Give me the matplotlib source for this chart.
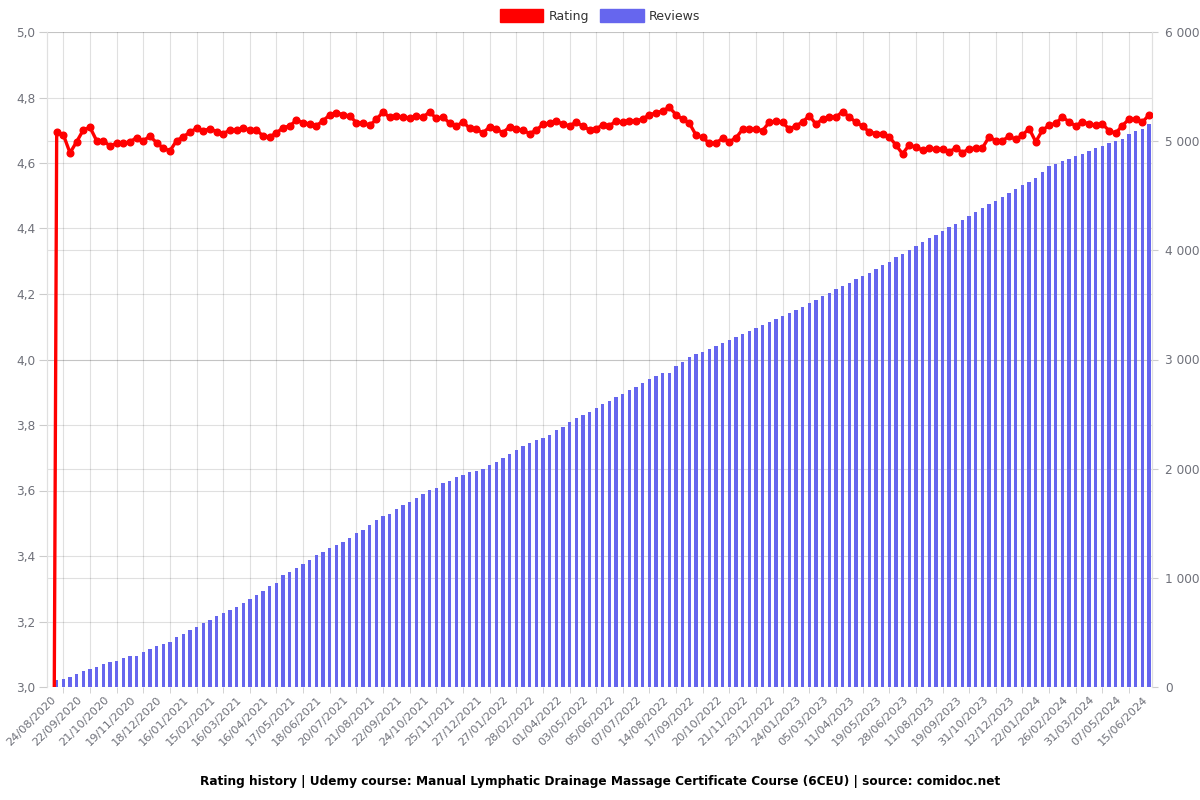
import matplotlib

matplotlib.use("Agg")
import matplotlib.pyplot as plt
import matplotlib.transforms as mtransforms
import numpy as np
from matplotlib.patches import Patch
from matplotlib.ticker import FixedLocator, FuncFormatter

# one label every 4 samples, starting with the first sample
TICK_DATES = [
    "24/08/2020", "22/09/2020", "21/10/2020", "19/11/2020", "18/12/2020",
    "16/01/2021", "15/02/2021", "16/03/2021", "16/04/2021", "17/05/2021",
    "18/06/2021", "20/07/2021", "21/08/2021", "22/09/2021", "24/10/2021",
    "25/11/2021", "27/12/2021", "27/01/2022", "28/02/2022", "01/04/2022",
    "03/05/2022", "05/06/2022", "07/07/2022", "14/08/2022", "17/09/2022",
    "20/10/2022", "21/11/2022", "23/12/2022", "24/01/2023", "05/03/2023",
    "11/04/2023", "19/05/2023", "28/06/2023", "11/08/2023", "19/09/2023",
    "31/10/2023", "12/12/2023", "22/01/2024", "26/02/2024", "31/03/2024",
    "07/05/2024", "15/06/2024",
]

RATING = [
    0.0,
    4.696, 4.686, 4.631, 4.665, 4.701, 4.709, 4.668, 4.668, 4.652, 4.660,
    4.660, 4.665, 4.677, 4.668, 4.682, 4.662, 4.645, 4.637, 4.668, 4.680,
    4.694, 4.706, 4.699, 4.704, 4.696, 4.689, 4.701, 4.701, 4.706, 4.701,
    4.701, 4.682, 4.680, 4.692, 4.708, 4.713, 4.731, 4.723, 4.719, 4.714,
    4.729, 4.747, 4.754, 4.747, 4.744, 4.723, 4.723, 4.715, 4.733, 4.756,
    4.739, 4.744,
    4.740, 4.738, 4.742, 4.740, 4.756, 4.736, 4.740, 4.722, 4.712, 4.726,
    4.706, 4.703, 4.692, 4.710, 4.703, 4.693, 4.710, 4.703, 4.700, 4.690,
    4.700, 4.718, 4.722,
    4.729, 4.718, 4.714, 4.724, 4.713, 4.701, 4.705, 4.716, 4.714, 4.728,
    4.725, 4.729, 4.729, 4.734, 4.748, 4.752, 4.760, 4.770, 4.747, 4.734,
    4.721, 4.685, 4.678, 4.660, 4.662, 4.675, 4.665, 4.677, 4.703, 4.704,
    4.703, 4.699, 4.725, 4.727, 4.724, 4.703, 4.714,
    4.725, 4.745, 4.718, 4.735, 4.740, 4.740, 4.757, 4.740, 4.725, 4.712,
    4.695, 4.690, 4.690, 4.680, 4.655, 4.628, 4.655, 4.648, 4.640, 4.645,
    4.643, 4.642, 4.635, 4.645, 4.632, 4.643, 4.646, 4.646, 4.680, 4.668,
    4.668, 4.682, 4.672, 4.685, 4.705, 4.665, 4.700, 4.715,
    4.721, 4.740, 4.726, 4.713, 4.726, 4.719, 4.715, 4.719, 4.699, 4.691,
    4.714, 4.734, 4.733, 4.724, 4.747,
]

REVIEWS = [
    0,
    60, 73, 94, 122, 147, 168, 186, 207, 225, 241,
    268, 284, 284, 321, 344, 376, 394, 412, 461, 485,
    522, 546, 586, 614, 653, 678, 705, 733,
    769, 809, 845, 882, 922, 955, 1022, 1056, 1093, 1129,
    1166, 1206, 1237, 1276, 1303, 1331, 1368, 1407, 1438, 1487,
    1530, 1563, 1587, 1630, 1664, 1695, 1731, 1764, 1801, 1826,
    1865, 1890, 1926, 1945, 1966, 1981, 2000, 2034, 2064, 2098,
    2137, 2171, 2210, 2235, 2263, 2281, 2311, 2357, 2382, 2424,
    2464, 2488, 2519, 2556, 2589, 2623, 2653, 2684, 2721, 2751,
    2781, 2818, 2849, 2876, 2879, 2940, 2980, 3023, 3050, 3069,
    3099, 3126,
    3150, 3180, 3205, 3235, 3262, 3290, 3318, 3345, 3375, 3400,
    3428, 3455, 3485, 3515, 3545, 3580, 3612, 3645, 3675, 3705,
    3735, 3765, 3795, 3830, 3862, 3895, 3935, 3970, 4005, 4040,
    4075, 4110, 4145, 4180, 4210, 4245, 4280, 4315, 4350, 4385,
    4420, 4455, 4490, 4525, 4560, 4595, 4630, 4665, 4715,
    4769, 4793, 4818, 4839, 4860, 4885, 4909, 4939, 4960, 4982,
    5003, 5024, 5065, 5092, 5113, 5153,
]

RATING_TICKS = [3.0, 3.2, 3.4, 3.6, 3.8, 4.0, 4.2, 4.4, 4.6, 4.8, 5.0]
REVIEW_TICKS = [0, 1000, 2000, 3000, 4000, 5000, 6000]

TITLE = ("Rating history | Udemy course: Manual Lymphatic Drainage Massage "
         "Certificate Course (6CEU) | source: comidoc.net")

RED = "#ff0000"
BLUE = "#6666ee"
LABEL_GRAY = "#6e7079"
GRID = dict(color="#000000", alpha=0.12, linewidth=0.8)


def main() -> None:
    fig = plt.figure(figsize=(12, 8), dpi=100)
    ax_rev = fig.add_axes([46.7 / 1200, 113 / 800, 1105.6 / 1200, 655 / 800])
    ax_rat = ax_rev.twinx()

    x = np.arange(len(REVIEWS))

    # bars live on the back axes, the rating line on the front one
    ax_rev.bar(x, REVIEWS, width=0.5, color=BLUE, zorder=2)
    ax_rat.plot(x, RATING, color=RED, linewidth=2.4, marker="o",
                markersize=4.8, zorder=3)

    ax_rat.set_zorder(ax_rev.get_zorder() + 1)
    ax_rat.patch.set_visible(False)

    ax_rev.set_xlim(-0.5, len(REVIEWS) - 0.5)
    ax_rev.set_ylim(0, 6000)
    ax_rat.set_ylim(3.0, 5.0)

    ax_rev.yaxis.tick_right()
    ax_rat.yaxis.tick_left()

    # x axis: labels every 4th sample, grid lines in between
    label_pos = np.arange(0, len(REVIEWS), 4)[: len(TICK_DATES)]
    ax_rev.xaxis.set_major_locator(FixedLocator(label_pos))
    ax_rev.set_xticklabels(TICK_DATES)
    ax_rev.xaxis.set_minor_locator(FixedLocator(np.arange(2, len(REVIEWS), 4)))
    ax_rev.tick_params(axis="x", which="major", length=0, pad=8,
                       labelsize=8.2, labelcolor=LABEL_GRAY)
    ax_rev.tick_params(axis="x", which="minor", length=4, color="#cccccc")
    # shift the rotated labels a few pixels right, like the original
    shift = mtransforms.ScaledTranslation(4 / 100, 0, fig.dpi_scale_trans)
    for lbl in ax_rev.get_xticklabels():
        lbl.set_rotation(45)
        lbl.set_ha("right")
        lbl.set_va("center")
        lbl.set_rotation_mode("anchor")
        lbl.set_transform(lbl.get_transform() + shift)
    ax_rev.grid(axis="x", which="minor", zorder=0, **GRID)

    # y axes
    ax_rev.yaxis.set_major_locator(FixedLocator(REVIEW_TICKS))
    ax_rev.yaxis.set_major_formatter(
        FuncFormatter(lambda v, _: f"{int(v):,}".replace(",", " ")))
    ax_rev.tick_params(axis="y", length=4, color="#cccccc", pad=5,
                       labelsize=8.7, labelcolor=LABEL_GRAY)
    ax_rev.grid(axis="y", which="major", zorder=0, **GRID)

    ax_rat.yaxis.set_major_locator(FixedLocator(RATING_TICKS))
    ax_rat.yaxis.set_major_formatter(
        FuncFormatter(lambda v, _: f"{v:.1f}".replace(".", ",")))
    ax_rat.tick_params(axis="y", length=6, color="#cccccc", pad=2,
                       labelsize=8.7, labelcolor=LABEL_GRAY)

    # rating grid drawn in the back axes so it stays behind the bars
    trans = mtransforms.blended_transform_factory(ax_rev.transAxes, ax_rat.transData)
    for v in RATING_TICKS:
        ax_rev.plot([0, 1], [v, v], transform=trans, zorder=0.5, **GRID)

    for a in (ax_rev, ax_rat):
        for side in ("top", "bottom"):
            a.spines[side].set_visible(False)
        for side in ("left", "right"):
            a.spines[side].set_color("#e0e0e0")
            a.spines[side].set_linewidth(0.8)

    handles = [Patch(color=RED, label="Rating"), Patch(color=BLUE, label="Reviews")]
    fig.legend(handles=handles, loc="center", bbox_to_anchor=(0.5, 1 - 16 / 800),
               ncol=2, frameon=False, fontsize=9, handlelength=3.5,
               handleheight=1.2, handletextpad=0.4, columnspacing=0.9,
               labelcolor="#333333")

    fig.text(0.5, 1 - 782 / 800, TITLE, ha="center", va="center",
             fontsize=8.7, fontweight="bold", color="#000000")

    fig.savefig("out.png", dpi=100)
    plt.close(fig)


if __name__ == "__main__":
    main()
